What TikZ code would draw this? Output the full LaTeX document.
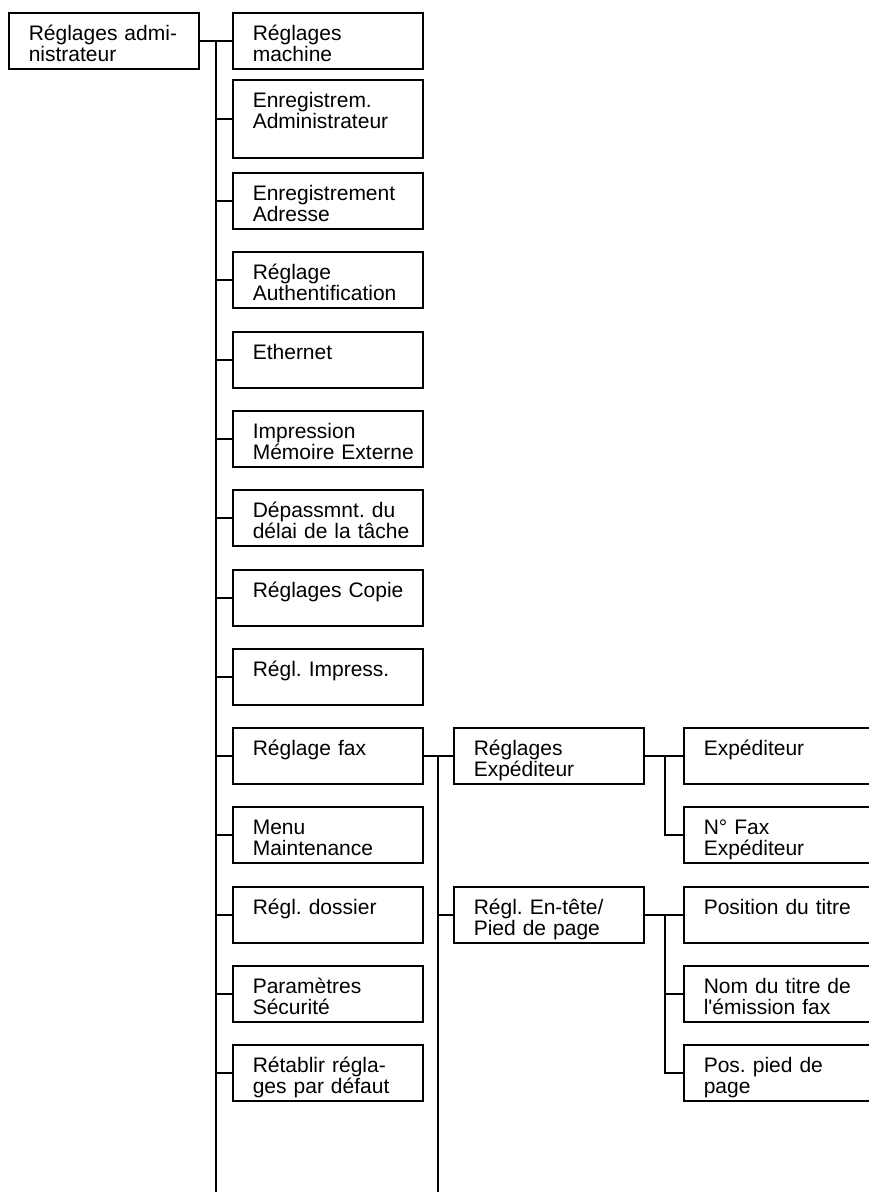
\documentclass[tikz,border=0pt]{standalone}
\usepackage{fontspec}
\setmainfont{Liberation Sans}
\frenchspacing
\hyphenpenalty=10000
\exhyphenpenalty=10000
\begin{document}
\begin{tikzpicture}[x=.5pt,y=-.5pt,line width=.8pt,
		box/.style={draw,anchor=north west,align=left,text width=75pt,
			inner xsep=10pt,inner ysep=0pt,text height=14pt,text depth=14pt,
			font=\fontsize{10.5}{10.3}\selectfont},
		tallbox/.style={box,text depth=25pt}]
	\useasboundingbox (0,0) rectangle (868,1192);
	\coordinate (spinea) at (216,1192);
	\coordinate (spineb) at (438,1192);
	\coordinate (colc) at (665,0);
	% premier niveau
	\node[box] (admin) at (8,12) {Réglages~admi-\\nistrateur};
	\node[box] (machine) at (232,12) {Réglages\\machine};
	\node[tallbox] (admreg) at (232,79) {Enregistrem.\\Administrateur};
	\node[box] (adresse) at (232,172) {Enregistrement\\Adresse};
	\node[box] (auth) at (232,251) {Réglage\\Authentification};
	\node[box] (ether) at (232,331) {Ethernet};
	\node[box] (memext) at (232,410) {Impression\\Mémoire~Externe};
	\node[box] (delai) at (232,489) {Dépassmnt.~du\\délai~de~la~tâche};
	\node[box] (copie) at (232,569) {Réglages~Copie};
	\node[box] (impr) at (232,648) {Régl.~Impress.};
	\node[box] (fax) at (232,727) {Réglage fax};
	\node[box] (maint) at (232,806) {Menu\\Maintenance};
	\node[box] (dossier) at (232,886) {Régl. dossier};
	\node[box] (secu) at (232,965) {Paramètres\\Sécurité};
	\node[box] (defaut) at (232,1044) {Rétablir~régla-\\ges~par~défaut};
	% reglage fax
	\node[box] (sendset) at (453,727) {Réglages\\Expéditeur};
	\node[box] (header) at (453,886) {Régl.~En-tête/\\Pied de page};
	\node[box] (sender) at (683,727) {Expéditeur};
	\node[box] (faxno) at (683,806) {N° Fax\\Expéditeur};
	\node[box] (titlepos) at (683,886) {Position~du~titre};
	\node[box] (titlename) at (683,965) {Nom~du~titre~de\\l\textquotesingle émission~fax};
	\node[box] (footpos) at (683,1044) {Pos.~pied~de\\page};
	% liaisons
	\draw (admin.east) -- (machine.west);
	\draw (admin.east -| spinea) -- (spinea);
	\draw (admreg.west) -- (admreg.west -| spinea) (adresse.west) -- (adresse.west -| spinea)
		(auth.west) -- (auth.west -| spinea) (ether.west) -- (ether.west -| spinea)
		(memext.west) -- (memext.west -| spinea) (delai.west) -- (delai.west -| spinea)
		(copie.west) -- (copie.west -| spinea) (impr.west) -- (impr.west -| spinea)
		(fax.west) -- (fax.west -| spinea) (maint.west) -- (maint.west -| spinea)
		(dossier.west) -- (dossier.west -| spinea) (secu.west) -- (secu.west -| spinea)
		(defaut.west) -- (defaut.west -| spinea);
	\draw (fax.east) -- (sendset.west);
	\draw (fax.east -| spineb) -- (spineb);
	\draw (header.west) -- (header.west -| spineb);
	\draw (sendset.east) -- (sender.west);
	\draw (sendset.east -| colc) |- (faxno.west);
	\draw (header.east) -- (titlepos.west);
	\draw (header.east -| colc) |- (footpos.west);
	\draw (titlename.west) -- (titlename.west -| colc);
\end{tikzpicture}
\end{document}
